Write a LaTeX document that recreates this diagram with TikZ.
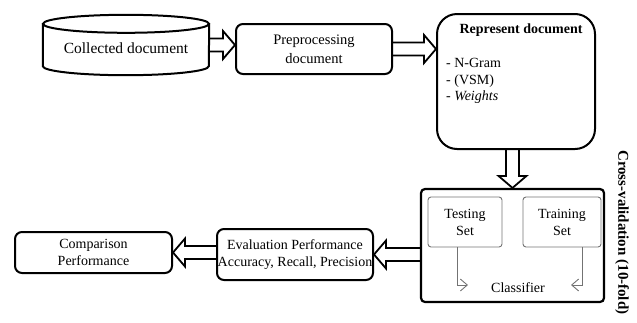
\documentclass[tikz,border=0pt]{standalone}
\usepackage{fontspec}
\setmainfont{Liberation Serif}
\usetikzlibrary{calc,arrows.meta}

\begin{document}
\begin{tikzpicture}[
	x=1pt, y=-1pt,
	every node/.style={ font=\fontsize{14}{17}\selectfont },
	box/.style={ draw, line width=2pt, rounded corners=7pt, align=center, inner sep=0pt },
	setbox/.style={ draw=black!55, line width=0.9pt, rounded corners=3pt, align=center, inner sep=0pt },
	setarrow/.style={ draw=black!55, line width=0.9pt, -{Straight Barb[length=7pt,width=12pt]} },
	fatarrow/.style={ line width=1.8pt, line join=miter, to path={
		let \p1=(\tikztostart), \p2=(\tikztotarget), \n1={veclen(\x2-\x1,\y2-\y1)},
		\n2={(\x2-\x1)/\n1}, \n3={(\y2-\y1)/\n1} in
		({\x1-6.5*(\n3)},{\y1+6.5*(\n2)}) -- ({\x2-12*(\n2)-6.5*(\n3)},{\y2-12*(\n3)+6.5*(\n2)})
		-- ({\x2-12*(\n2)-14*(\n3)},{\y2-12*(\n3)+14*(\n2)}) -- (\p2)
		-- ({\x2-12*(\n2)+14*(\n3)},{\y2-12*(\n3)-14*(\n2)}) -- ({\x2-12*(\n2)+6.5*(\n3)},{\y2-12*(\n3)-6.5*(\n2)})
		-- ({\x1+6.5*(\n3)},{\y1-6.5*(\n2)}) } }
]
\useasboundingbox (0,0) rectangle (637,322);

\node at (126,45) (coll) [minimum width=166pt, minimum height=42pt, inner sep=0pt, text height=20pt, text depth=4pt, font=\fontsize{15.5}{17}\selectfont] {Collected document};
\draw[line width=2pt, fill=white] (coll.north) ellipse [x radius=83pt, y radius=9pt];
\draw[line width=2pt] (coll.north west) -- (coll.south west) arc [start angle=180, end angle=360, x radius=83pt, y radius=9pt] -- (coll.north east);

\node at (314,49) (prep) [box, minimum width=156pt, minimum height=50pt, font=\fontsize{14.5}{19}\selectfont] {Preprocessing\\document};

\node at (516,81.5) (repr) [box, rounded corners=20pt, minimum width=158pt, minimum height=135pt] {};
\node at (521,30) (reprtitle) [font=\fontsize{14}{17}\selectfont\bfseries] {Represent document};
\foreach \t [count=\i] in {N-Gram, {(VSM)}, {\textit{Weights}}} \node at (446,51+16.5*\i) (item\i) [anchor=base west, inner sep=0pt] {- \t};

\node at (512.5,245.5) (clf) [box, line width=2.2pt, rounded corners=4pt, minimum width=183pt, minimum height=113pt] {};
\node at (465,222) (test) [setbox, minimum width=74pt, minimum height=50pt] {Testing\\Set};
\node at (562,222) (train) [setbox, minimum width=78pt, minimum height=50pt] {Training\\Set};
\node at (518,288) (clflabel) {Classifier};
\coordinate (testend) at (468,285);
\coordinate (trainend) at (571,285);
\draw[setarrow] ([xshift=-8pt]test.south) |- (testend);
\draw[setarrow] ([xshift=20pt]train.south) |- (trainend);

\node at (622,150) (cvlabel) [rotate=-90, anchor=west, inner sep=0pt, font=\fontsize{15}{17}\selectfont\bfseries] {Cross-validation\ (10-fold)};

\node at (295,254.5) (eval) [box, minimum width=156pt, minimum height=51pt] {Evaluation Performance\\Accuracy, Recall, Precision};
\node at (93.5,252.5) (comp) [box, minimum width=157pt, minimum height=41pt] {Comparison\\Performance};

\draw[fatarrow] (coll.east) to (coll.east -| prep.west);
\draw[fatarrow] (prep.east) to (prep.east -| repr.west);
\draw[fatarrow] (repr.south -| clf.north) to (clf.north);
\draw[fatarrow] (clf.west |- eval.east) to (eval.east);
\draw[fatarrow] (eval.west |- comp.east) to (comp.east);

\end{tikzpicture}
\end{document}
